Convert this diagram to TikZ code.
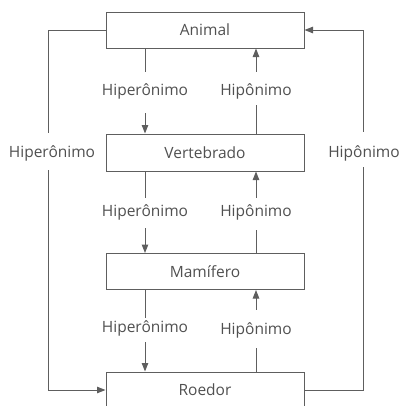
\documentclass[tikz,border=0pt]{standalone}
\usepackage{fontspec}
\setmainfont{Open Sans}
\usetikzlibrary{arrows.meta,calc}
\definecolor{linecol}{HTML}{5E5E5E}
\definecolor{textcol}{HTML}{505050}
\begin{document}
\begin{tikzpicture}[x=1pt,y=-1pt,
  box/.style={draw=linecol, line width=1pt, minimum width=198pt, minimum height=36pt, inner sep=0pt, text=textcol, font=\fontsize{15.5}{18}\selectfont},
  lbl/.style={inner sep=0pt, text height=12pt, text depth=4pt, text=textcol, font=\fontsize{15.5}{18}\selectfont},
  conn/.style={draw=linecol, line width=1pt},
  arr/.style={conn, -{Triangle[length=8.5pt,width=6.5pt]}}]
\useasboundingbox (0,0) rectangle (406,405);
\clip (0,0) rectangle (406,405);
% boxes
\node[box] (A) at (205,30) {Animal};
\node[box, minimum height=37pt] (V) at (205,152.5) {Vertebrado};
\node[box] (M) at (205,271.5) {Mamífero};
\node[box] (R) at (205,390) {Roedor};
% labels
\node[lbl] (h1) at (145,91) {Hiperônimo};
\node[lbl] (p1) at (256,91) {Hipônimo};
\node[lbl] (h2) at (145,212) {Hiperônimo};
\node[lbl] (p2) at (256,212) {Hipônimo};
\node[lbl] (h3) at (145,328) {Hiperônimo};
\node[lbl] (p3) at (256,330) {Hipônimo};
\node[lbl] (hl) at (52,153) {Hiperônimo};
\node[lbl] (pr) at (364,153) {Hipônimo};
% Animal -> Vertebrado
\draw[conn] (A.south -| h1) -- ([yshift=11pt]h1.north);
\draw[arr] ([yshift=-14pt]h1.south) -- (V.north -| h1);
\draw[conn] (V.north -| p1) -- ([yshift=-6pt]p1.south);
\draw[arr] ([yshift=11pt]p1.north) -- (A.south -| p1);
% Vertebrado -> Mamifero
\draw[conn] (V.south -| h2) -- ([yshift=6pt]h2.north);
\draw[arr] ([yshift=-8pt]h2.south) -- (M.north -| h2);
\draw[conn] (M.north -| p2) -- ([yshift=-10pt]p2.south);
\draw[arr] ([yshift=6pt]p2.north) -- (V.south -| p2);
% Mamifero -> Roedor
\draw[conn] (M.south -| h3) -- ([yshift=2pt]h3.north);
\draw[arr] ([yshift=-6pt]h3.south) -- (R.north -| h3);
\draw[conn] (R.north -| p3) -- ([yshift=-10pt]p3.south);
\draw[arr] ([yshift=12pt]p3.north) -- (M.south -| p3);
% outer
\draw[conn] (A.west) -| ([yshift=12pt]hl.north -| 48,0);
\draw[arr] ([yshift=-9pt]hl.south -| 48,0) |- (R.west);
\draw[conn] (R.east) -| ([yshift=-6pt]pr.south -| 363,0);
\draw[arr] ([yshift=13pt]pr.north -| 363,0) |- (A.east);
\end{tikzpicture}
\end{document}
